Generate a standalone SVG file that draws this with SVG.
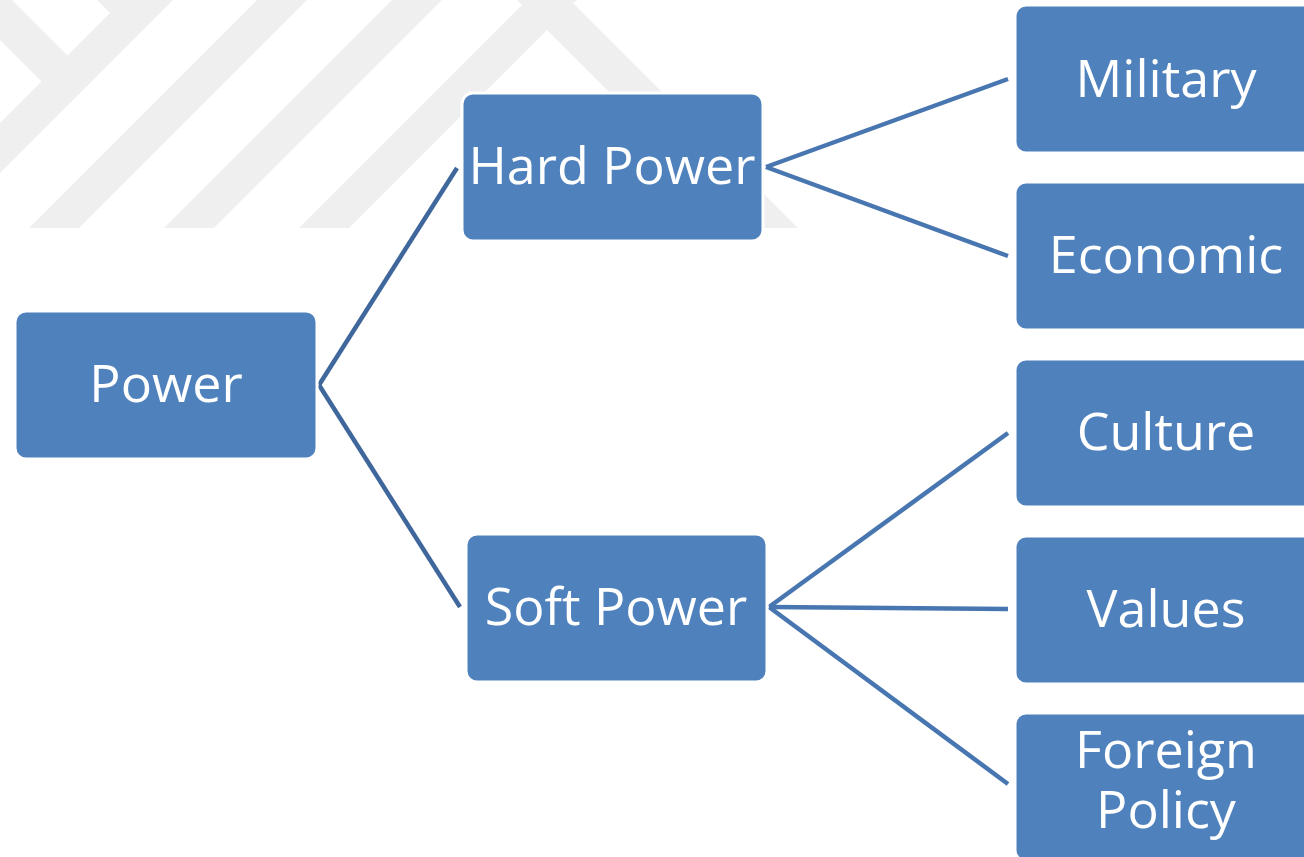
<svg xmlns="http://www.w3.org/2000/svg" width="1304" height="857" viewBox="0 0 1304 857">
  <style>
    .box { fill: #4F81BD; stroke: #FFFFFF; stroke-width: 3; }
    .label { font-family: "Open Sans", "Noto Sans", sans-serif; font-size: 52px; fill: #FFFFFF; text-anchor: middle; }
    .mark { fill: #EFEFEF; }
    .link-root { stroke: #3F679C; stroke-width: 4.5; fill: none; }
    .link { stroke: #4876B0; stroke-width: 4.5; fill: none; }
  </style>
  <defs>
    <clipPath id="markClip">
      <rect x="0" y="0" width="830" height="228"/>
    </clipPath>
  </defs>

  <rect x="0" y="0" width="1304" height="857" fill="#FFFFFF"/>

  <!-- faint diagonal background emblem -->
  <g id="background-emblem" clip-path="url(#markClip)">
    <polygon class="mark" points="0,-12 92.5,80.5 66.5,106.5 0,40"/>
    <polygon class="mark" points="90,-7 110,13 130,-7"/>
    <polygon class="mark" points="-10,133 133,-10 183,-10 -10,183"/>
    <polygon class="mark" points="-10,267 267,-10 317,-10 -10,317"/>
    <polygon class="mark" points="-10,402 402,-10 452,-10 -10,452"/>
    <polygon class="mark" points="-10,537 537,-10 587,-10 -10,587"/>
    <polygon class="mark" points="507,-10 560,-10 810,240 757,240"/>
  </g>

  <!-- connectors -->
  <g id="connectors">
    <line class="link-root" x1="319" y1="385" x2="457" y2="168"/>
    <line class="link-root" x1="319" y1="385" x2="460" y2="607"/>
    <line class="link" x1="766" y1="167" x2="1008" y2="79"/>
    <line class="link" x1="766" y1="167" x2="1008" y2="256"/>
    <line class="link" x1="769" y1="607" x2="1008" y2="433"/>
    <line class="link" x1="769" y1="607" x2="1008" y2="609"/>
    <line class="link" x1="769" y1="607" x2="1008" y2="784"/>
  </g>

  <!-- nodes -->
  <g id="node-power">
    <rect class="box" x="15" y="311" width="302" height="148" rx="11"/>
    <text class="label" x="166" y="402">Power</text>
  </g>
  <g id="node-hard-power">
    <rect class="box" x="462" y="93" width="301" height="148" rx="11"/>
    <text class="label" x="612" y="184">Hard Power</text>
  </g>
  <g id="node-soft-power">
    <rect class="box" x="466" y="534" width="301" height="148" rx="11"/>
    <text class="label" x="616" y="625">Soft Power</text>
  </g>
  <g id="node-military">
    <rect class="box" x="1015" y="5" width="301" height="148" rx="11"/>
    <text class="label" x="1166" y="97">Military</text>
  </g>
  <g id="node-economic">
    <rect class="box" x="1015" y="182" width="301" height="148" rx="11"/>
    <text class="label" x="1166" y="273">Economic</text>
  </g>
  <g id="node-culture">
    <rect class="box" x="1015" y="359" width="301" height="148" rx="11"/>
    <text class="label" x="1166" y="450">Culture</text>
  </g>
  <g id="node-values">
    <rect class="box" x="1015" y="536" width="301" height="148" rx="11"/>
    <text class="label" x="1166" y="627">Values</text>
  </g>
  <g id="node-foreign-policy">
    <rect class="box" x="1015" y="713" width="301" height="148" rx="11"/>
    <text class="label" x="1166" y="768">Foreign<tspan x="1166" dy="60">Policy</tspan></text>
  </g>
</svg>
